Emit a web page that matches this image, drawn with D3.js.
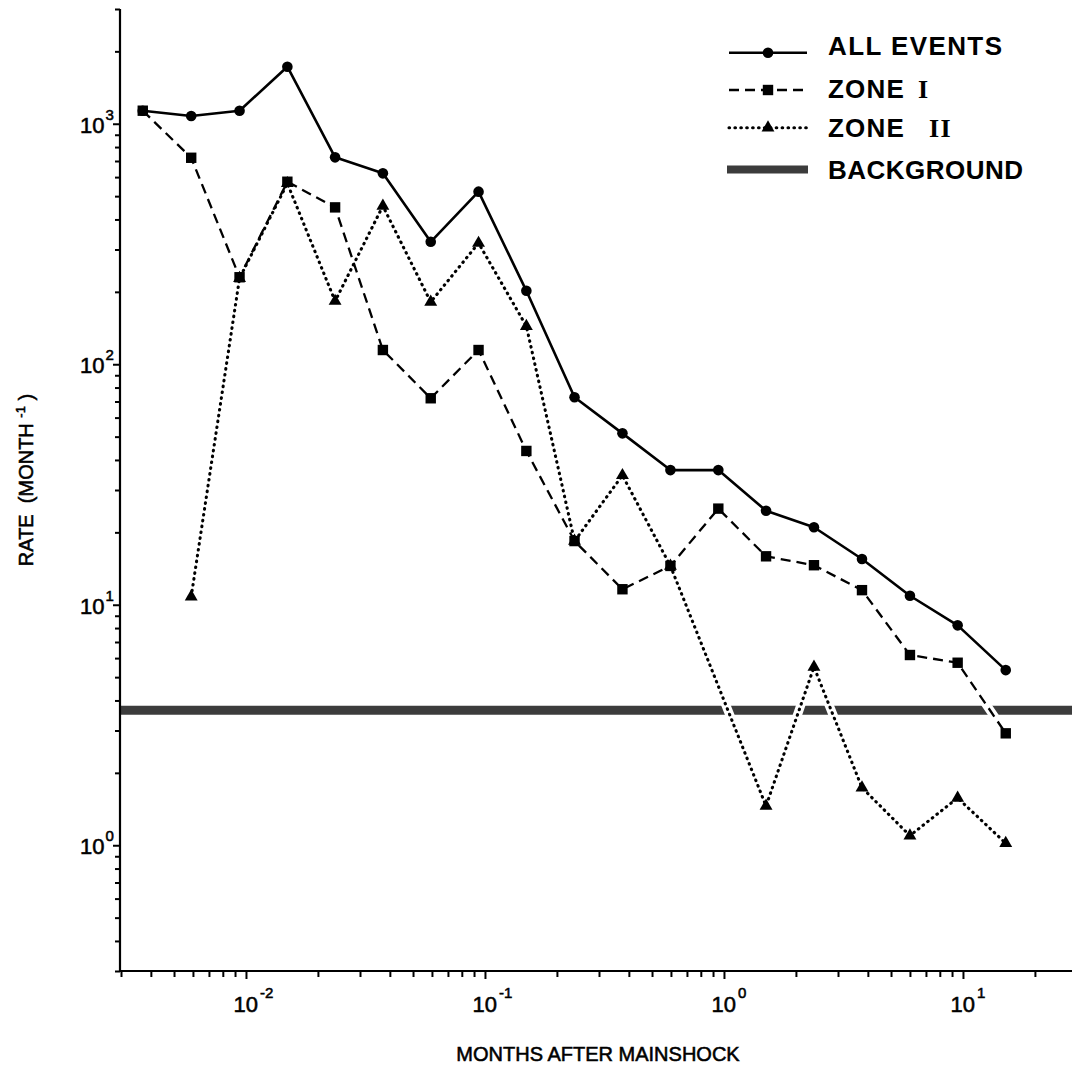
<!DOCTYPE html>
<html><head><meta charset="utf-8">
<script src="https://cdn.jsdelivr.net/npm/d3@7"></script>
<style>
body{margin:0;background:#fff}
svg{display:block}
text{font-family:"Liberation Sans",Arial,Helvetica,sans-serif;fill:#000}
.heavy{stroke:#000;stroke-width:0.55px}
</style>
</head><body>
<svg id="c" width="1072" height="1065"></svg>
<script>
// ---- data ----
const months = [0.0037, 0.0059, 0.0094, 0.0149, 0.0236, 0.0374, 0.0593, 0.094, 0.149, 0.237, 0.376, 0.597, 0.947, 1.50, 2.38, 3.78, 6.0, 9.5, 15.1];
const allEvents = [1133, 1077, 1133, 1727, 725, 622, 323, 522, 202, 72.9, 51.6, 36.3, 36.3, 24.6, 21.0, 15.5, 10.9, 8.21, 5.35];
const zone1 = [1133, 722, 230, 574, 449, 114.6, 72.2, 114.6, 43.6, 18.4, 11.6, 14.5, 25.1, 15.9, 14.6, 11.5, 6.18, 5.74, 2.92];
const zone2 = [null, 10.8, 228, 565, 183, 455, 181.5, 319, 144, 18.4, 34.5, 14.5, null, 1.456, 5.51, 1.735, 1.096, 1.573, 1.019];
const backgroundRate = 3.64;
const legendLabels = ["ALL EVENTS", "ZONE I", "ZONE II", "BACKGROUND"];
const xMajor = [0.01, 0.1, 1, 10];
const yMajor = [1, 10, 100, 1000];
const xTitle = "MONTHS AFTER MAINSHOCK";

// ---- scales ----
const svg = d3.select("#c");
const x = d3.scaleLog().domain([0.003, 30]).range([121, 1077]);
const y = d3.scaleLog().domain([0.3, 3000]).range([971, 9]);
const bandColor = "#3c3c3c";

const pts = arr => months.map((m, i) => [m, arr[i]]).filter(d => d[1] != null);
const line = d3.line().x(d => x(d[0])).y(d => y(d[1]));

// background band
svg.append("line")
  .attr("x1", 120).attr("x2", 1072)
  .attr("y1", y(backgroundRate)).attr("y2", y(backgroundRate))
  .attr("stroke", bandColor).attr("stroke-width", 9);

const series = [
  {data: pts(allEvents), dash: null, w: 2.6, cap: "butt", marker: "circle"},
  {data: pts(zone1), dash: "10,6", w: 2.3, cap: "butt", marker: "square"},
  {data: pts(zone2), dash: "0.6,5.3", w: 3.1, cap: "round", marker: "triangle"}
];

// white halos (cut the background band where lines cross)
series.forEach(s => {
  svg.append("path").attr("d", line(s.data))
    .attr("fill", "none").attr("stroke", "#fff").attr("stroke-width", 9);
});

const tri = d3.symbol().type(d3.symbolTriangle).size(72);
function drawMarker(g, type, cx, cy) {
  if (type === "circle") g.append("circle").attr("cx", cx).attr("cy", cy).attr("r", 5.3).attr("fill", "#000");
  else if (type === "square") g.append("rect").attr("x", cx - 5.2).attr("y", cy - 5.2).attr("width", 10.4).attr("height", 10.4).attr("fill", "#000");
  else g.append("path").attr("d", tri()).attr("transform", `translate(${cx},${cy})`).attr("fill", "#000");
}

// lines
[series[2], series[1], series[0]].forEach(s => {
  svg.append("path").attr("d", line(s.data))
    .attr("fill", "none").attr("stroke", "#000")
    .attr("stroke-width", s.w)
    .attr("stroke-dasharray", s.dash)
    .attr("stroke-linecap", s.cap)
    .attr("stroke-linejoin", "round");
});
[series[2], series[1], series[0]].forEach(s => {
  const g = svg.append("g");
  s.data.forEach(d => drawMarker(g, s.marker, x(d[0]), y(d[1])));
});

// ---- axes ----
const isMajor = v => Math.abs(Math.log10(v) - Math.round(Math.log10(v))) < 1e-9;

const xAxis = svg.append("g").attr("transform", "translate(0,971)")
  .call(d3.axisBottom(x).tickValues(x.ticks()).tickSize(6).tickSizeOuter(0).tickFormat(""));
xAxis.select(".domain").attr("stroke-width", 2.2).attr("d", "M119,0H1072");
xAxis.selectAll(".tick line").attr("stroke-width", 2).attr("y2", d => isMajor(d) ? 8 : 6);

const yAxis = svg.append("g").attr("transform", "translate(120,0)")
  .call(d3.axisLeft(y).tickValues(y.ticks()).tickSize(5).tickSizeOuter(0).tickFormat(""));
yAxis.select(".domain").attr("stroke-width", 2.2).attr("d", "M0,9V972");
yAxis.selectAll(".tick line").attr("stroke-width", 2).attr("x2", d => isMajor(d) ? -7 : -5);

// tick labels 10^n
xMajor.forEach(v => {
  const t = svg.append("text").attr("class", "heavy").attr("x", x(v) - 12.5).attr("y", 1011.5).attr("font-size", 22);
  t.append("tspan").text("10");
  t.append("tspan").attr("dy", -14).attr("dx", 2).attr("font-size", 15).text(Math.round(Math.log10(v)));
});
yMajor.forEach(v => {
  const t = svg.append("text").attr("class", "heavy").attr("x", 80).attr("y", y(v) + 9).attr("font-size", 22);
  t.append("tspan").text("10");
  t.append("tspan").attr("dy", -13).attr("dx", 1).attr("font-size", 15).text(Math.round(Math.log10(v)));
});

// axis titles
svg.append("text").attr("class", "heavy").attr("x", 598).attr("y", 1061).attr("text-anchor", "middle")
  .attr("font-size", 20).text(xTitle);

const yt = svg.append("text").attr("class", "heavy").attr("transform", "translate(33,480) rotate(-90)")
  .attr("text-anchor", "middle").attr("font-size", 20).style("white-space", "pre");
yt.append("tspan").text("RATE  (MONTH ");
yt.append("tspan").attr("dy", -8).attr("font-size", 13).text("-1");
yt.append("tspan").attr("dy", 8).text(" )");

// ---- legend ----
const lx1 = 729, lx2 = 807, lm = 768, tx = 828;
const legendRows = [
  {ly: 52.7, ty: 55, s: series[0]},
  {ly: 90, ty: 98.3, s: series[1]},
  {ly: 127.7, ty: 136.6, s: series[2]},
  {ly: 169.5, ty: 179, s: null}
];
legendRows.forEach((r, i) => {
  if (r.s) {
    svg.append("line").attr("x1", lx1).attr("x2", lx2).attr("y1", r.ly).attr("y2", r.ly)
      .attr("stroke", "#000").attr("stroke-width", r.s.w)
      .attr("stroke-dasharray", r.s.dash).attr("stroke-linecap", r.s.cap);
    drawMarker(svg, r.s.marker, lm, r.ly);
  } else {
    svg.append("line").attr("x1", lx1 - 2).attr("x2", lx2 + 1).attr("y1", r.ly).attr("y2", r.ly)
      .attr("stroke", bandColor).attr("stroke-width", 8);
  }
  const label = legendLabels[i];
  const t = svg.append("text").attr("x", tx).attr("y", r.ty)
    .attr("font-size", 26).attr("font-weight", "bold");
  const m = label.match(/^(ZONE)\s+(I+)$/);
  if (m) {
    t.append("tspan").attr("letter-spacing", 1.2).text(m[1] + " ");
    t.append("tspan").attr("x", m[2].length === 1 ? 918 : 929)
      .attr("font-family", '"Liberation Serif","Times New Roman",serif')
      .attr("letter-spacing", 1.5).text(m[2]);
  } else {
    t.attr("textLength", label === "ALL EVENTS" ? 174 : 195).attr("lengthAdjust", "spacing").text(label);
  }
});
</script>
</body></html>
